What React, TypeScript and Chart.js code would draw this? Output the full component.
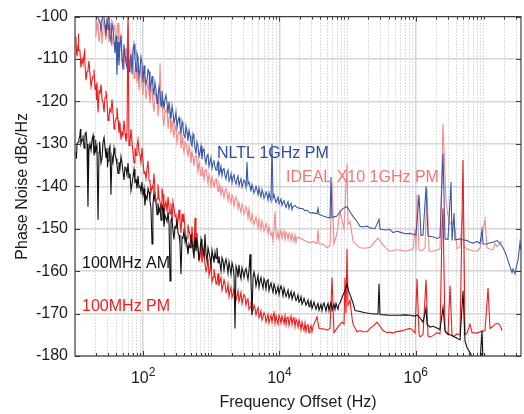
import React, { useEffect, useRef } from 'react';
import { Chart, registerables } from 'chart.js';

Chart.register(...registerables);

const FONT = '"Liberation Sans", Arial, Helvetica, sans-serif';

// ---- axis ranges / ticks ----
const xMin = 10;
const xMax = 3.5e7;
const yMin = -180;
const yMax = -100;
const yStep = 10;
const xLabelExponents = [2, 4, 6];

// ---- series names ----
const seriesNames = ['100MHz AM', '100MHz PM', 'NLTL 1GHz PM', 'IDEAL X10 1GHz PM'];

// ---- 100MHz AM (black) ----
const amFreq = [10.3, 10.7, 11.1, 11.4, 11.8, 12.2, 12.7, 13.1, 13.6, 14.0, 14.5, 15.0, 15.5, 16.0, 16.6, 17.8, 18.4, 19.0, 19.7, 20.3, 21.0, 21.8, 22.5, 23.3, 24.9, 25.8, 27.6, 28.5, 29.5, 30.5, 31.5, 33.7, 34.9, 36.1, 38.6, 40.0, 41.3, 44.2, 45.7, 48.9, 50.6, 54.2, 56.0, 57.9, 62.0, 64.1, 66.3, 71.0, 75.9, 78.6, 81.2, 86.9, 89.9, 93.0, 99.5, 103, 110, 114, 122, 126, 135, 139, 149, 154, 160, 171, 177, 196, 209, 216, 224, 240, 248, 256, 274, 293, 303, 325, 336, 359, 372, 384, 411, 425, 440, 471, 487, 521, 539, 577, 596, 638, 683, 730, 808, 836, 865, 957, 1059, 1133, 1212, 1254, 1341, 1485, 1589, 1700, 1881, 2082, 2228, 2383, 2637, 2918, 3122, 3340, 3697, 3956, 4092, 4378, 4685, 5184, 5546, 6138, 6567, 7267, 7775, 8604, 9205, 10190, 10900, 12070, 12910, 14280, 15810, 18090, 20020, 22160, 25370, 28060, 31080, 35560, 39360, 43550, 49860, 55170, 61050, 69890, 77330, 82770, 91600, 98000, 104800, 108400, 120000, 128400, 152000, 180000, 213200, 252500, 279300, 288900, 298800, 353900, 419000, 496200, 587400, 695600, 823200, 975000, 1043000, 1155000, 1278000, 1414000, 1462000, 1619000, 1791000, 2050000, 2269000, 2510000, 2687000, 2874000, 3181000, 3521000, 4029000, 4460000, 4935000, 5280000, 5649000, 6252000, 6918000, 7920000, 8768000, 9379000, 9700000];
const amDb = [-132, -130, -129.6, -128.9, -128, -130, -129, -128, -131, -127.7, -127.3, -130, -144.8, -131.5, -130, -129, -128, -132.7, -131, -131.5, -130.5, -147.9, -132, -131, -133.5, -129.6, -131, -133.3, -132, -134, -131.2, -142, -133, -134.3, -132.5, -133.5, -135, -134.3, -135.8, -134.5, -136.5, -135.5, -135.8, -137.3, -138, -137, -141, -137.8, -139, -138.5, -140.5, -140.2, -140, -141.3, -142, -140.5, -142.3, -143, -141.3, -143.6, -153.6, -144.4, -143.5, -143.6, -146.7, -146, -145, -145.2, -146.8, -147.5, -148.3, -149, -162.3, -148, -150.6, -149.5, -149.8, -151, -151.5, -160.7, -152, -152.2, -153, -152, -154, -153.6, -154.5, -153, -155, -152, -155.3, -154.5, -155.3, -154, -151.3, -156, -157.6, -156.8, -156.5, -155.5, -154.5, -158, -158.3, -157.5, -158, -158.6, -159.2, -159, -173.5, -159.5, -160.7, -160.2, -160, -160.7, -156, -170.4, -161.5, -161.3, -162.3, -162.3, -163, -162.5, -162.3, -163.5, -164, -163.8, -164.6, -164.2, -164.4, -165, -165.3, -165.6, -165.8, -166.5, -166.9, -167.3, -167.5, -167.6, -168.1, -168.2, -168.5, -168, -168.2, -168.1, -168.5, -168.4, -167.5, -166.2, -164.5, -163, -165, -165.5, -167.5, -169.3, -169.5, -169.8, -170, -170.1, -170.1, -163, -170.2, -170.3, -170.4, -170.4, -170.4, -170.3, -170.4, -170.6, -170.3, -171, -172, -168.8, -172.5, -173.2, -173, -173.4, -173.8, -168.5, -174, -174.6, -175, -175.3, -175.8, -176.2, -164.6, -176.5, -178, -179.2, -180.5, -182, -181.5, -174, -182];
// extra readings of the noisy trace, between the points above
const amFreqB = [10.5, 12.0, 13.3, 14.8, 17.2, 20.0, 22.9, 24.1, 26.7, 30.0, 32.6, 37.4, 42.8, 47.3, 52.4, 60.0, 68.6, 73.4, 84.0, 96.2, 106, 118, 130, 144, 165, 183, 189, 202, 232, 265, 283, 314, 347, 397, 455, 503, 557, 617, 660, 706, 781, 895, 990, 1024, 1095, 1172, 1296, 1387, 1436, 1536, 1644, 1759, 1819, 1946, 2013, 2154, 2305, 2465, 2549, 2727, 2821, 3018, 3229, 3455, 3574, 3823, 4232, 4528, 4845, 5012, 5362, 5736, 5934, 6349, 6792, 7026, 7517, 8043, 8320, 8899, 9522, 9850, 10540, 11280, 11670, 12490, 13360, 13820, 14790, 15300, 16370, 17510, 18730, 19370, 20720, 21430, 22930, 24530, 26240, 27140, 29040, 30040, 32140, 34380, 36780, 38040, 40700, 42100, 45050, 48190, 51560, 53330, 57070, 59020, 63140, 65320, 67560, 72280, 74770];
const amDbB = [-133.5, -126.5, -129.5, -128.5, -131.5, -129, -129.5, -134.5, -128.5, -135.5, -130.5, -131, -137, -133, -138.5, -134.5, -139.5, -136, -137.5, -139, -144.5, -140.5, -145, -141.5, -144, -148, -144.5, -149.5, -146, -147.5, -152.5, -148, -153.5, -150.5, -156, -151.5, -157, -153, -157.5, -152.5, -156.5, -154.5, -158.5, -155, -158, -157, -156.5, -160, -156.8, -159.8, -157.2, -160.5, -157.8, -160.8, -158, -161, -158.8, -161.5, -158.5, -161.8, -159.2, -161.5, -159.4, -162, -159.8, -162.5, -160.2, -163.5, -161, -163.8, -161.5, -164, -161.8, -164.2, -162, -164.6, -162.8, -165, -163, -165.3, -163.6, -165.5, -163.5, -165.8, -164, -166, -164.5, -166.3, -164.8, -166.6, -165, -166.9, -165.6, -167.3, -166, -167.8, -166.4, -168, -166.8, -168.4, -167, -168.8, -167.3, -169, -167.6, -169.2, -167.8, -169.3, -167.5, -169.4, -167.6, -169.3, -167.4, -169.2, -167.8, -169, -167.6, -169, -167.8];

// ---- 100MHz PM (red) ----
const pmFreq = [10.3, 10.7, 11.1, 11.4, 11.8, 12.7, 13.1, 13.6, 14.0, 15.0, 15.5, 16.6, 17.8, 18.4, 19.7, 20.3, 21.0, 21.8, 22.5, 23.3, 24.9, 25.8, 27.6, 29.5, 30.5, 31.5, 32.6, 33.7, 36.1, 38.6, 40.0, 42.8, 44.2, 45.7, 48.9, 50.6, 54.2, 56.0, 57.9, 60.0, 62.0, 64.1, 68.6, 71.0, 75.9, 78.6, 81.2, 86.9, 89.9, 93.0, 99.5, 106, 110, 114, 122, 126, 135, 139, 149, 160, 171, 177, 196, 209, 216, 224, 240, 248, 256, 274, 293, 303, 325, 347, 372, 384, 411, 440, 471, 487, 539, 577, 596, 638, 683, 755, 808, 865, 957, 1059, 1133, 1212, 1341, 1485, 1589, 1700, 1881, 2082, 2228, 2383, 2637, 2918, 3122, 3340, 3697, 4092, 4378, 4685, 5184, 5736, 6138, 6567, 7267, 8043, 9205, 10190, 11280, 12910, 14280, 15810, 18090, 20020, 22160, 25370, 28060, 31080, 35560, 38040, 43550, 49860, 55170, 59020, 63140, 69890, 77330, 82770, 88570, 91600, 94760, 98000, 101400, 108400, 116000, 120000, 137400, 152000, 168300, 192600, 213200, 244000, 270100, 298800, 330700, 378500, 419000, 463700, 530800, 587400, 695600, 823200, 911200, 975000, 1043000, 1116000, 1155000, 1278000, 1414000, 1512000, 1619000, 1791000, 2050000, 2269000, 2427000, 2510000, 2598000, 2687000, 2973000, 3181000, 3403000, 3521000, 4029000, 4460000, 4935000, 5280000, 5649000, 6252000, 6688000, 7920000, 8768000, 10380000, 11490000, 12290000, 13600000, 14550000, 16100000, 17230000, 18440000];
const pmDb = [-104.7, -109.4, -106.5, -108, -107.9, -110, -111, -109, -110, -113, -112.5, -113.5, -114.9, -114, -117.2, -116, -115.5, -122.6, -117.5, -118, -119.5, -120.3, -119, -120, -124.5, -123.4, -121.8, -122.5, -122.5, -125, -124, -124.5, -127.5, -125, -127.3, -128, -127.5, -129.5, -128, -99, -130.4, -129.5, -129.6, -132, -131, -132.7, -130.5, -132, -132.7, -134.3, -134, -136.5, -138.2, -135.8, -138.5, -139, -140, -140.5, -141, -143, -142.8, -143.6, -142, -144.5, -143.6, -146, -145.2, -146.5, -144, -143.6, -147, -146.7, -148, -148.3, -146.5, -148.5, -150, -152.2, -150.6, -151.3, -153.6, -147.5, -152.9, -155, -156.8, -156, -158.3, -159.2, -160, -161.5, -161, -162.5, -162.3, -163.5, -163, -164.6, -164.8, -165.3, -165, -165.8, -166.2, -166.4, -166, -166.9, -168.5, -169.3, -168.8, -169.3, -170.5, -170.8, -170.2, -171.2, -171.2, -170.5, -171.6, -171, -171.5, -171, -171.5, -171.2, -172, -172.3, -173.2, -172.8, -173.5, -173, -170.8, -173.5, -173.6, -173.9, -173.5, -161.5, -174.5, -173.5, -172.5, -172, -172.5, -161.5, -170, -154.8, -168, -166.9, -171, -172.5, -174.3, -174, -174.3, -174.3, -173.5, -172.8, -172, -173, -174, -174.5, -174.4, -174.6, -174.2, -174.2, -173.8, -173.5, -174, -174.6, -161.8, -174.8, -175.5, -175, -162, -175.3, -175.5, -175.2, -174.5, -174.8, -150, -145.2, -160, -174.2, -175, -163.4, -175, -175.5, -174.8, -175, -133.8, -175, -174.6, -172.5, -174.5, -174.6, -174.3, -174, -164, -173.5, -173, -172.5, -172.3, -172.8, -174];
const pmFreqB = [10.5, 11.2, 12.2, 13.8, 14.5, 16.0, 17.2, 19.0, 20.7, 24.1, 26.7, 28.5, 34.9, 37.4, 41.3, 47.3, 52.4, 66.3, 73.4, 84.0, 96.2, 103, 118, 130, 144, 154, 165, 183, 189, 202, 232, 265, 283, 314, 336, 359, 397, 425, 455, 503, 521, 557, 617, 660, 706, 730, 781, 836, 895, 926, 990, 1024, 1095, 1172, 1254, 1296, 1387, 1436, 1536, 1644, 1759, 1819, 1946, 2013, 2154, 2305, 2465, 2549, 2727, 2821, 3018, 3229, 3455, 3574, 3823, 3956, 4232, 4528, 4845, 5012, 5362, 5546, 5934, 6349, 6792, 7026, 7517, 7775, 8320, 8604, 8899, 9522, 9850, 10540, 10900, 11670, 12070, 12490, 13360, 13820, 14790, 15300, 16370, 16910, 17510, 18730, 19370, 20720, 21430, 22930, 23710, 24530, 26240, 27140, 29040, 30040];
const pmDbB = [-108, -104, -112, -107.5, -115, -110.5, -116.5, -112.5, -119.5, -116, -122.5, -117.5, -119.5, -126.5, -121.5, -129, -124.5, -126.5, -134.5, -129, -131, -137, -134, -141.5, -137, -143.5, -139.5, -145.5, -140.5, -146.5, -142.5, -148, -145, -150, -145.5, -151, -147, -153.5, -149, -154.5, -149.5, -155.5, -151, -157.5, -153.5, -158, -154.5, -160, -157, -161, -158, -162.5, -159.5, -163, -160.5, -163.5, -161.5, -164.5, -162, -165, -163, -166, -163.8, -166.2, -164.2, -166.8, -164.6, -167.2, -165, -167.6, -165.5, -168, -166.5, -169, -167.2, -169.8, -168, -170.3, -168.6, -171, -169.4, -171.5, -169.8, -172, -170.2, -172.2, -170.4, -172, -169.8, -172.3, -170.5, -172.5, -170.4, -172.3, -170.6, -172.4, -170.5, -172.6, -170.8, -172.8, -170.6, -172.6, -171, -173, -171.3, -173.2, -171.5, -173.8, -172, -174, -172.2, -174.2, -172.6, -174.5, -172.8, -174.3];

// ---- NLTL 1GHz PM (blue) ----
const nltlFreq = [20.3, 23.3, 25.8, 27.6, 29.5, 32.6, 36.1, 38.6, 41.3, 42.8, 45.7, 48.9, 54.2, 57.9, 64.1, 71.0, 75.9, 81.2, 89.9, 96.2, 106, 114, 122, 130, 139, 154, 165, 177, 196, 209, 224, 248, 274, 293, 325, 347, 384, 411, 440, 487, 521, 539, 577, 638, 683, 755, 808, 865, 957, 1059, 1133, 1212, 1341, 1485, 1589, 1700, 1881, 2082, 2228, 2383, 2637, 2918, 3122, 3340, 3455, 3697, 4092, 4378, 4685, 5184, 5736, 6138, 6567, 7267, 7775, 8043, 8604, 9205, 10190, 11280, 12070, 12910, 14280, 15810, 16910, 18090, 20020, 22160, 23710, 25370, 28060, 31080, 35560, 36780, 38040, 43550, 49860, 55170, 57070, 59020, 63140, 69890, 77330, 85590, 98000, 108400, 120000, 137400, 152000, 168300, 192600, 213200, 252500, 288900, 298800, 353900, 419000, 463700, 530800, 587400, 695600, 823200, 911200, 1008000, 1116000, 1194000, 1278000, 1414000, 1512000, 1619000, 1791000, 2050000, 2269000, 2510000, 2687000, 2973000, 3290000, 3403000, 3641000, 3766000, 4460000, 4935000, 5649000, 6252000, 6918000, 7920000, 8768000, 9379000, 9700000, 11100000, 12290000, 13600000, 15570000, 17230000, 19060000, 20400000, 21830000, 24150000, 25840000, 26730000, 28600000, 30590000, 31640000, 33850000, 35000000];
const nltlDb = [-99, -101.5, -99, -102, -100.5, -104.7, -103, -108.6, -113.7, -106, -107, -110, -109.4, -112, -110.6, -107.9, -110, -108.6, -112.5, -111, -114, -114.8, -113, -116.5, -116.4, -117, -119, -118, -120, -119.5, -120.3, -122.5, -122.6, -124, -124.5, -125.7, -126, -128.5, -127.3, -128, -130.5, -127.7, -131, -130.5, -132, -131.5, -133.5, -132.8, -134.3, -134.5, -135.5, -135, -136.6, -136, -137.5, -136.8, -138.2, -137.8, -138.8, -138.3, -138.9, -139.3, -139, -134.3, -139.5, -140, -140.5, -141, -140.8, -141.7, -141.5, -142.2, -142, -142.6, -130, -142.8, -143, -143.3, -143.6, -143.8, -144.3, -144.2, -144.4, -144.8, -144.5, -145, -145.2, -145.3, -145.8, -145.6, -146.3, -146.2, -146.5, -145.2, -146.6, -147, -147.3, -147.5, -137.8, -147.4, -147.2, -147, -146, -145.2, -144.8, -146, -147.1, -148.3, -149.4, -149.6, -149.4, -149.8, -150, -147.8, -150.1, -150.3, -150.2, -150.9, -150.6, -150.8, -151.2, -151.1, -151.3, -151.5, -142, -151.6, -151.5, -140, -151.7, -151.8, -151.9, -152.3, -152, -132.3, -152.4, -152.5, -139, -152.8, -146.3, -152.6, -152.4, -152.6, -152.8, -153.2, -153.4, -153, -153.5, -150.2, -153.6, -153.6, -153.3, -153.2, -152.8, -153.4, -154.5, -155.5, -156.8, -159, -160.3, -159.5, -160.6, -158.3, -157.5, -153.3, -155];
const nltlFreqB = [24.1, 26.7, 28.5, 30.5, 31.5, 33.7, 34.9, 37.4, 40.0, 44.2, 47.3, 50.6, 52.4, 56.0, 60.0, 62.0, 66.3, 68.6, 73.4, 78.6, 84.0, 86.9, 93.0, 99.5, 103, 110, 118, 126, 135, 144, 149, 160, 171, 183, 189, 202, 216, 232, 240, 256, 265, 283, 303, 314, 336, 359, 372, 397, 425, 455, 471, 503, 557, 596, 617, 660, 706, 730, 781, 836, 895, 926, 990, 1024, 1095, 1172, 1254, 1296, 1387, 1436, 1536, 1644, 1759, 1819, 1946, 2013, 2154, 2305, 2465, 2549, 2727, 2821, 3018, 3229, 3574, 3823, 3956, 4232, 4528, 4845, 5012, 5362, 5546, 5934, 6349, 6792, 7026, 7517, 8320, 8899, 9522, 9850, 10540, 10900, 11670, 12490, 13360, 13820, 14790, 15300];
const nltlDbB = [-103, -100.5, -104.5, -103, -99.5, -106, -101.5, -106, -104.5, -111.5, -104.5, -112.5, -106.5, -111, -107.5, -113, -109, -113.5, -106.5, -113, -109.5, -114, -109.5, -115.5, -111.5, -116, -112.5, -117.5, -114, -118.5, -115.5, -120.5, -116.5, -121, -117.5, -121.8, -118.5, -122.8, -120, -124, -121, -125, -122.5, -126.2, -123.8, -127.5, -124.8, -128, -125.8, -129.3, -126.8, -129.8, -128.8, -132.3, -129.5, -133, -130.5, -133.6, -131.2, -134.6, -132.5, -135.3, -133.2, -135.8, -133.8, -136.2, -134.2, -137.3, -135.3, -137.5, -135.8, -138.3, -136.2, -138.8, -137, -139.2, -137.3, -139.5, -137.6, -139.8, -138.2, -140.2, -138.5, -140.3, -139, -141.2, -139.6, -141.6, -140, -142, -140.4, -142.5, -140.8, -142.8, -141.3, -143.2, -141.5, -143.4, -142, -143.8, -142.6, -144.1, -143, -144.5, -143.4, -145, -143.6, -145.2, -144, -145.5];

// ---- IDEAL X10 1GHz PM (light red) ----
const idealFreq = [19.7, 20.3, 21.0, 23.3, 25.8, 27.6, 29.5, 32.6, 36.1, 38.6, 41.3, 45.7, 48.9, 50.6, 54.2, 57.9, 60.0, 62.0, 64.1, 68.6, 71.0, 75.9, 81.2, 84.0, 89.9, 96.2, 106, 114, 122, 130, 139, 149, 160, 171, 177, 183, 196, 209, 224, 248, 274, 293, 325, 347, 384, 411, 440, 487, 539, 577, 617, 683, 755, 808, 865, 957, 1059, 1133, 1212, 1341, 1485, 1589, 1700, 1881, 2082, 2228, 2383, 2637, 2918, 3122, 3340, 3697, 4092, 4685, 5184, 5736, 6138, 6567, 7267, 7775, 8043, 8604, 8899, 10190, 11280, 12910, 14280, 15810, 18090, 20020, 22160, 25370, 28060, 31080, 35560, 36780, 38040, 43550, 49860, 55170, 59020, 63140, 69890, 77330, 82770, 88570, 98000, 101400, 108400, 120000, 137400, 152000, 180000, 213200, 252500, 279300, 330700, 378500, 419000, 496200, 587400, 695600, 823200, 911200, 975000, 1008000, 1043000, 1116000, 1235000, 1367000, 1462000, 1565000, 1791000, 2050000, 2269000, 2510000, 2779000, 2973000, 3181000, 3521000, 3766000, 4029000, 4460000, 4935000, 5105000, 5649000, 6252000, 6918000, 7920000, 8768000, 10380000, 11100000, 12290000, 13600000, 14550000, 15570000, 17230000, 18440000];
const idealDb = [-104.7, -99, -103, -104.4, -102.4, -104, -100, -103.5, -104.7, -103, -103.2, -105.5, -110.5, -110.2, -107.5, -107.9, -102, -110, -112.5, -110, -109, -113, -115.6, -112, -113.5, -116.5, -115, -117.2, -118, -117.5, -120.3, -119, -118.5, -121, -111, -121.5, -124.2, -122, -121.5, -122.6, -126.5, -125.5, -128, -127.5, -130.4, -129.5, -131.5, -132, -133.5, -133, -134.3, -135.8, -136.6, -136.2, -137.5, -138.2, -139, -138.8, -139.7, -140.3, -141.3, -141, -141.8, -142.8, -142.6, -143.2, -143.6, -145.2, -145, -146, -145.5, -147.5, -147.8, -148.5, -149, -149.2, -149.8, -150, -150.6, -151, -152.9, -146, -151.5, -151.3, -151, -151.2, -151.5, -152.2, -152, -152.2, -152.6, -153, -153.3, -153, -153.5, -150.2, -153.6, -153.6, -154.5, -154, -139, -153.6, -151, -146, -148, -150, -134.7, -149, -148.3, -152.9, -154, -154.5, -154.6, -154.4, -153, -152.2, -153.8, -154.8, -155.3, -155, -155, -155.3, -155, -154.8, -150, -155, -142, -155, -155.2, -154.5, -140.5, -155.3, -155.3, -155, -154.8, -125.3, -143.6, -147, -149, -148.3, -150, -154.7, -154.3, -145, -154.3, -154.8, -155, -155.2, -155.3, -154.6, -147.8, -154.5, -154.8, -155, -153.5, -154.2, -153.5, -152.9];
const idealFreqB = [21.8, 22.5, 24.1, 24.9, 26.7, 28.5, 30.5, 31.5, 33.7, 34.9, 37.4, 40.0, 42.8, 44.2, 47.3, 52.4, 56.0, 66.3, 73.4, 78.6, 86.9, 93.0, 99.5, 103, 110, 118, 126, 135, 144, 154, 165, 189, 202, 216, 232, 240, 256, 265, 283, 303, 314, 336, 359, 372, 397, 425, 455, 471, 503, 521, 557, 596, 638, 660, 706, 730, 781, 836, 895, 926, 990, 1024, 1095, 1172, 1254, 1296, 1387, 1436, 1536, 1644, 1759, 1819, 1946, 2013, 2154, 2305, 2465, 2549, 2727, 2821, 3018, 3229, 3455, 3574, 3823, 3956, 4232, 4528, 4845, 5012, 5362, 5546, 5934, 6349, 6792, 7026, 7517, 8320, 9205, 9522, 9850, 10540, 10900, 11670, 12070, 12490, 13360, 13820, 14790, 15300, 16370, 16910, 17510];
const idealDbB = [-101.5, -106, -100.5, -106.5, -101, -105.5, -102.5, -106, -101.5, -107, -102, -106.5, -101.5, -108, -104, -112.5, -110.5, -108.5, -114.5, -111, -117.5, -112.5, -118.5, -114, -119.5, -115.5, -120.5, -117, -122.5, -118, -123.5, -120, -125.8, -122.5, -126.5, -123.8, -127.5, -124.5, -128.5, -126.5, -129.8, -127, -131, -128.5, -132, -129.8, -133, -130.5, -134.5, -131.8, -135.2, -132.5, -136.5, -134.2, -137.5, -135.3, -138.3, -136, -139.3, -137.2, -140, -137.8, -140.3, -138.3, -141.2, -139.3, -142, -140.3, -142.6, -140.5, -143.4, -141.6, -144, -142, -144.6, -142.5, -145.3, -143.8, -146.2, -144.2, -146.5, -144.8, -147.5, -145.3, -148.3, -146.5, -149, -147.2, -149.8, -147.8, -150.3, -148.2, -150.6, -148.8, -151.2, -149.4, -151.5, -150, -152.3, -150.6, -152.4, -150.4, -152.3, -150.5, -152.5, -150.8, -152.6, -151, -152.8, -151.2, -153, -151.4, -153.2];

// ---- styling (not data) ----
const lineColors = ['#111111', '#ee1c1c', '#3a58a8', '#f48a8a'];
const labelColors = ['#111111', '#ee2020', '#2e4c9e', '#f07676'];
const labelAnchors = [
  { x: 12.7, y: -158.3 },
  { x: 12.7, y: -168.3 },
  { x: 1212, y: -132.2 },
  { x: 12470, y: -138.0 },
];

function toPoints(xs: number[], ys: number[], xs2: number[], ys2: number[]) {
  const pts = xs.map((x, i) => ({ x, y: ys[i] }));
  xs2.forEach((x, i) => pts.push({ x, y: ys2[i] }));
  pts.sort((a, b) => a.x - b.x);
  return pts;
}

function isEvenDecade(v: number) {
  const e = Math.log10(v);
  const r = Math.round(e);
  return Math.abs(e - r) < 1e-6 && r % 2 === 0;
}
function isDecade(v: number) {
  const e = Math.log10(v);
  return Math.abs(e - Math.round(e)) < 1e-6;
}

export default function App() {
  const canvasRef = useRef<HTMLCanvasElement | null>(null);

  useEffect(() => {
    const canvas = canvasRef.current;
    if (!canvas) return;

    const framePlugin = {
      id: 'frameTicks',
      afterDatasetsDraw(chart: any) {
        const { ctx, chartArea: a, scales } = chart;
        const xs = scales.x;
        const ys = scales.y;
        ctx.save();
        ctx.strokeStyle = '#3a3a3a';
        ctx.lineWidth = 1;
        ctx.beginPath();
        xs.ticks.forEach((t: any) => {
          const px = Math.round(xs.getPixelForValue(t.value)) + 0.5;
          if (px < a.left + 1 || px > a.right - 1) return;
          const len = isEvenDecade(t.value) ? 5 : 3;
          ctx.moveTo(px, a.bottom);
          ctx.lineTo(px, a.bottom - len);
          ctx.moveTo(px, a.top);
          ctx.lineTo(px, a.top + len);
        });
        ys.ticks.forEach((t: any) => {
          const py = Math.round(ys.getPixelForValue(t.value)) + 0.5;
          ctx.moveTo(a.left, py);
          ctx.lineTo(a.left + 5, py);
          ctx.moveTo(a.right, py);
          ctx.lineTo(a.right - 5, py);
        });
        ctx.stroke();
        ctx.strokeStyle = '#404040';
        ctx.lineWidth = 1.2;
        ctx.strokeRect(a.left, a.top, a.right - a.left, a.bottom - a.top);
        ctx.restore();

        ctx.save();
        ctx.font = `16px ${FONT}`;
        ctx.textBaseline = 'middle';
        ctx.textAlign = 'left';
        seriesNames.forEach((name, i) => {
          const p = labelAnchors[i];
          ctx.fillStyle = labelColors[i];
          ctx.fillText(name, xs.getPixelForValue(p.x), ys.getPixelForValue(p.y));
        });
        ctx.restore();
      },
      afterDraw(chart: any) {
        const { ctx, chartArea: a, scales } = chart;
        const xs = scales.x;
        ctx.save();
        ctx.fillStyle = '#1a1a1a';
        ctx.textBaseline = 'alphabetic';
        ctx.textAlign = 'left';
        xLabelExponents.forEach((e) => {
          const cx = xs.getPixelForValue(Math.pow(10, e));
          ctx.font = `16px ${FONT}`;
          const w1 = ctx.measureText('10').width;
          ctx.font = `12px ${FONT}`;
          const w2 = ctx.measureText(String(e)).width;
          const start = cx - (w1 + w2) / 2;
          ctx.font = `16px ${FONT}`;
          ctx.fillText('10', start, a.bottom + 27);
          ctx.font = `12px ${FONT}`;
          ctx.fillText(String(e), start + w1, a.bottom + 20);
        });
        ctx.restore();
      },
    };

    const xGridValues: number[] = [];
    for (let e = 1; e <= 7; e++) {
      for (let m = 1; m <= 9; m++) {
        const v = m * Math.pow(10, e);
        if (v >= xMin && v <= xMax) xGridValues.push(v);
      }
    }

    const chart = new Chart(canvas, {
      type: 'line',
      data: {
        datasets: [
          { label: seriesNames[0], data: toPoints(amFreq, amDb, amFreqB, amDbB) },
          { label: seriesNames[1], data: toPoints(pmFreq, pmDb, pmFreqB, pmDbB) },
          { label: seriesNames[2], data: toPoints(nltlFreq, nltlDb, nltlFreqB, nltlDbB) },
          { label: seriesNames[3], data: toPoints(idealFreq, idealDb, idealFreqB, idealDbB) },
        ].map((d, i) => ({
          ...d,
          borderColor: lineColors[i],
          backgroundColor: lineColors[i],
          borderWidth: 1.1,
          pointRadius: 0,
          tension: 0,
          fill: false,
        })),
      },
      options: {
        responsive: false,
        animation: false,
        devicePixelRatio: 1,
        layout: { padding: { top: 13, right: 3, left: 0, bottom: 0 } },
        plugins: {
          legend: { display: false },
          tooltip: { enabled: false },
        },
        scales: {
          x: {
            type: 'logarithmic',
            min: xMin,
            max: xMax,
            afterBuildTicks: (s: any) => {
              s.ticks = xGridValues.map((v) => ({ value: v, major: isDecade(v) }));
            },
            afterFit: (s: any) => {
              s.height = 58;
            },
            ticks: { display: false, autoSkip: false },
            grid: {
              drawTicks: false,
              color: (c: any) => (c.tick && isEvenDecade(c.tick.value) ? '#d6d6d6' : '#bcbcbc'),
              lineWidth: (c: any) => (c.tick && isEvenDecade(c.tick.value) ? 1.5 : 1),
            },
            border: {
              display: false,
              dash: (c: any) => (c.tick && isEvenDecade(c.tick.value) ? [] : [1, 2]),
            },
            title: {
              display: true,
              text: 'Frequency Offset (Hz)',
              color: '#1a1a1a',
              font: { family: FONT, size: 16 },
              padding: { top: 0, bottom: 2 },
            },
          },
          y: {
            type: 'linear',
            min: yMin,
            max: yMax,
            afterFit: (s: any) => {
              s.width = 75;
            },
            ticks: {
              stepSize: yStep,
              color: '#1a1a1a',
              font: { family: FONT, size: 16 },
              padding: 7,
            },
            grid: { drawTicks: false, color: '#d6d6d6', lineWidth: 1.5 },
            border: { display: false },
            title: {
              display: true,
              text: 'Phase Noise dBc/Hz',
              color: '#1a1a1a',
              font: { family: FONT, size: 16 },
              padding: { top: 13, bottom: 0 },
            },
          },
        },
      } as any,
      plugins: [framePlugin],
    });

    return () => chart.destroy();
  }, []);

  return (
    <div style={{ position: 'absolute', left: 0, top: 0, width: 524, height: 414, background: '#fff' }}>
      <canvas ref={canvasRef} width={524} height={414} style={{ display: 'block' }} />
    </div>
  );
}
